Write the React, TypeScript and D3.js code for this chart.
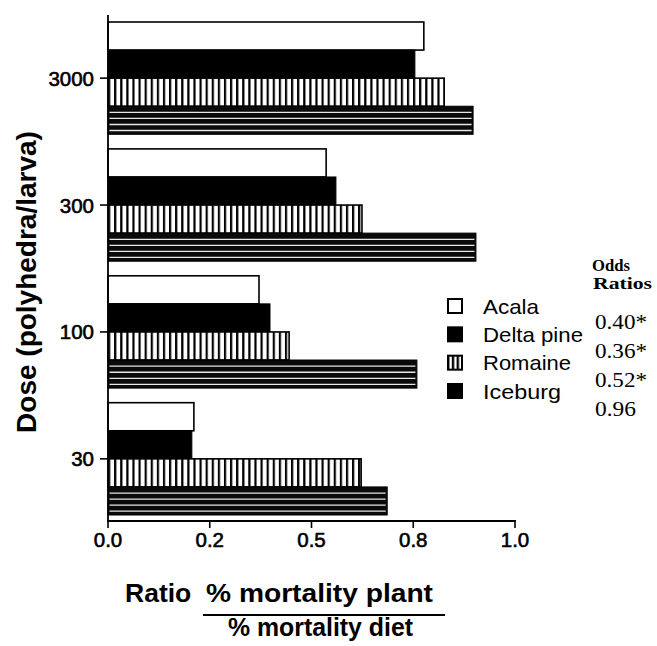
import React from "react";
import * as d3 from "d3";

const doses = ["3000", "300", "100", "30"];
const varieties = ["Acala", "Delta pine", "Romaine", "Iceburg"];
const oddsRatios = ["0.40*", "0.36*", "0.52*", "0.96"];
const acala = [0.776, 0.536, 0.371, 0.211];
const deltaPine = [0.754, 0.56, 0.398, 0.206];
const romaine = [0.826, 0.624, 0.445, 0.622];
const iceburg = [0.897, 0.904, 0.759, 0.686];
const xTickValues = [0, 0.25, 0.5, 0.75, 1.0];
const xTickLabels = ["0.0", "0.2", "0.5", "0.8", "1.0"];

const seriesValues = [acala, deltaPine, romaine, iceburg];
const legendTextWidths = [56, 100, 88, 78];

const W = 657;
const H = 646;
const sans = "'Liberation Sans', Arial, Helvetica, sans-serif";
const serif = "'Liberation Serif', 'Times New Roman', serif";

export default function App() {
  const x = d3.scaleLinear().domain([0, 1]).range([108, 515]);
  const yGroup = d3.scaleBand<string>().domain(doses).range([22, 515]).paddingInner(0.115).paddingOuter(0);
  const ySub = d3.scaleBand<string>().domain(varieties).range([0, yGroup.bandwidth()]);
  const axisY = 521;
  const bh = ySub.bandwidth();

  const bars: JSX.Element[] = [];
  doses.forEach((dose, gi) => {
    varieties.forEach((v, si) => {
      const val = seriesValues[si][gi];
      const y0 = (yGroup(dose) as number) + (ySub(v) as number);
      const x0 = x(0);
      const w = x(val) - x0;
      const key = `${dose}-${v}`;
      if (si === 0) {
        bars.push(<rect key={key} x={x0} y={y0} width={w} height={bh} fill="#fff" stroke="#000" strokeWidth={1.6} />);
      } else if (si === 1) {
        bars.push(<rect key={key} x={x0} y={y0} width={w} height={bh} fill="#000" stroke="#000" strokeWidth={1} />);
      } else if (si === 2) {
        bars.push(<rect key={key} x={x0} y={y0} width={w} height={bh} fill="url(#vstripe)" stroke="#000" strokeWidth={1.6} />);
      } else {
        const lines = d3.range(4).map((k) => y0 + bh * (0.22 + 0.215 * k));
        bars.push(
          <g key={key}>
            <rect x={x0} y={y0} width={w} height={bh} fill="#0a0a0a" stroke="#000" strokeWidth={1} />
            {lines.map((ly, i) => (
              <line key={i} x1={x0 + 1.5} x2={x0 + w - 1.5} y1={ly} y2={ly} stroke="#fff" strokeWidth={1.3} opacity={0.9} />
            ))}
          </g>
        );
      }
    });
  });

  const legendY = d3.scalePoint<string>().domain(varieties).range([306, 391]);
  const oddsY = d3.scalePoint<string>().domain(varieties).range([321, 408]);

  return (
    <svg width={W} height={H} style={{ position: "absolute", left: 0, top: 0, background: "#fff" }}>
      <defs>
        <pattern id="vstripe" patternUnits="userSpaceOnUse" x={108} y={0} width={6.1} height={10}>
          <rect x={0} y={0} width={6.1} height={10} fill="#fff" />
          <rect x={0} y={0} width={2.2} height={10} fill="#000" />
        </pattern>
        <pattern id="vstripeLeg" patternUnits="userSpaceOnUse" x={447} y={0} width={4.8} height={10}>
          <rect x={0} y={0} width={4.8} height={10} fill="#fff" />
          <rect x={0} y={0} width={2.4} height={10} fill="#000" />
        </pattern>
      </defs>

      {bars}

      {/* y axis */}
      <line x1={108} x2={108} y1={15} y2={axisY} stroke="#000" strokeWidth={1.8} />
      {doses.map((d) => {
        const cy = (yGroup(d) as number) + yGroup.bandwidth() / 2;
        return (
          <g key={d}>
            <line x1={100} x2={108} y1={cy} y2={cy} stroke="#000" strokeWidth={1.6} />
            <text x={94} y={cy + 7.5} textAnchor="end" fontFamily={sans} fontSize={20.5} stroke="#000" strokeWidth={0.6}>
              {d}
            </text>
          </g>
        );
      })}

      {/* x axis */}
      <line x1={107} x2={516} y1={axisY} y2={axisY} stroke="#000" strokeWidth={1.8} />
      {xTickValues.map((t, i) => (
        <g key={t}>
          <line x1={x(t)} x2={x(t)} y1={axisY} y2={axisY + 7} stroke="#000" strokeWidth={1.6} />
          <text x={x(t)} y={547} textAnchor="middle" fontFamily={sans} fontSize={20.5} stroke="#000" strokeWidth={0.6}>
            {xTickLabels[i]}
          </text>
        </g>
      ))}

      {/* axis titles */}
      <text transform="translate(36,282) rotate(-90)" textAnchor="middle" fontFamily={sans} fontWeight="bold" fontSize={28}>
        Dose (polyhedra/larva)
      </text>
      <text x={125} y={602} fontFamily={sans} fontWeight="bold" fontSize={26.5}>
        Ratio
      </text>
      <text x={206} y={602} fontFamily={sans} fontWeight="bold" fontSize={26.5} textLength={227} lengthAdjust="spacingAndGlyphs">
        % mortality plant
      </text>
      <line x1={203} x2={445} y1={615} y2={615} stroke="#000" strokeWidth={2} />
      <text x={228} y={636} fontFamily={sans} fontWeight="bold" fontSize={26.5} textLength={185} lengthAdjust="spacingAndGlyphs">
        % mortality diet
      </text>

      {/* legend */}
      <text x={592} y={271} fontFamily={serif} fontWeight="bold" fontSize={17} textLength={38} lengthAdjust="spacingAndGlyphs">
        Odds
      </text>
      <text x={593} y={289} fontFamily={serif} fontWeight="bold" fontSize={17} textLength={59} lengthAdjust="spacingAndGlyphs">
        Ratios
      </text>
      {varieties.map((v, i) => {
        const cy = legendY(v) as number;
        let sw: JSX.Element;
        if (i === 0) sw = <rect x={448} y={cy - 7} width={14} height={14} fill="#fff" stroke="#000" strokeWidth={2} />;
        else if (i === 1) sw = <rect x={447} y={cy - 8} width={16} height={16} fill="#000" />;
        else if (i === 2) sw = <rect x={448} y={cy - 7} width={14} height={14} fill="url(#vstripeLeg)" stroke="#000" strokeWidth={2} />;
        else sw = <rect x={447} y={cy - 8} width={16} height={16} fill="#000" />;
        return (
          <g key={v}>
            {sw}
            <text x={483} y={cy + 7.5} fontFamily={sans} fontSize={21} textLength={legendTextWidths[i]} lengthAdjust="spacingAndGlyphs">
              {v}
            </text>
            <text x={595} y={(oddsY(v) as number) + 7.5} fontFamily={serif} fontSize={21} textLength={i === 3 ? 41 : 52} lengthAdjust="spacingAndGlyphs">
              {oddsRatios[i]}
            </text>
          </g>
        );
      })}
    </svg>
  );
}
